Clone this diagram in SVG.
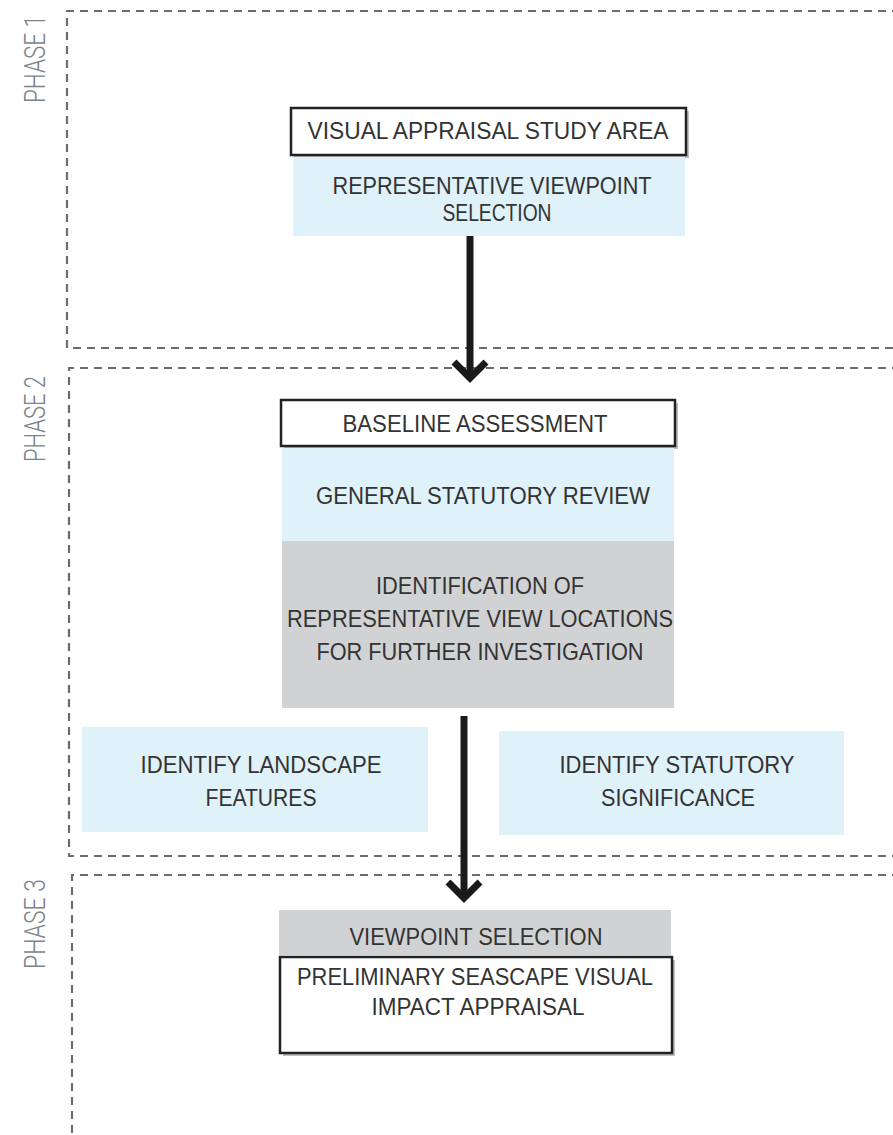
<svg xmlns="http://www.w3.org/2000/svg" width="893" height="1135" viewBox="0 0 893 1135">
<style>
.phase{fill:none;stroke:#676d72;stroke-width:2.2;stroke-dasharray:8 6}
.plabel{font-family:"Roboto","Liberation Sans",sans-serif;font-weight:300;font-size:29px;fill:#7d858a}
.t{font-family:"Liberation Sans",Arial,sans-serif;font-size:24.5px;fill:#333;text-anchor:middle}
.blue{fill:#dff1f9}
.gray{fill:#d1d2d4}
.white{fill:#fff;stroke:#222;stroke-width:2.5}
.shadow{fill:#888;opacity:0.55}
.conn{stroke:#1a1a1a;stroke-width:7;fill:none}
.head{stroke:#1a1a1a;stroke-width:7;fill:none;stroke-linejoin:miter}
</style>
<g id="phase1">
<path class="phase" d="M900,11 H67 V348 H900"/>
<text class="plabel" transform="translate(45,103) rotate(-90)" textLength="88" lengthAdjust="spacingAndGlyphs">PHASE 1</text>
</g>
<g id="phase2">
<path class="phase" d="M900,368 H69 V856 H900"/>
<text class="plabel" transform="translate(45,462) rotate(-90)" textLength="86" lengthAdjust="spacingAndGlyphs">PHASE 2</text>
</g>
<g id="phase3">
<path class="phase" d="M900,875 H72 V1140"/>
<text class="plabel" transform="translate(45,969) rotate(-90)" textLength="90" lengthAdjust="spacingAndGlyphs">PHASE 3</text>
</g>
<g id="connectors">
<line class="conn" x1="470" y1="236" x2="470" y2="376"/>
<polyline class="head" points="454,362 470,378 486,362"/>
<line class="conn" x1="464" y1="716" x2="464" y2="896"/>
<polyline class="head" points="448,882 464,898 480,882"/>
</g>
<g id="node-visual-appraisal">
<rect class="shadow" x="294" y="111" width="395" height="47"/>
<rect class="white" x="291" y="108" width="395" height="47"/>
<text class="t" x="488" y="139" textLength="361" lengthAdjust="spacingAndGlyphs">VISUAL APPRAISAL STUDY AREA</text>
</g>
<g id="node-rep-viewpoint">
<rect class="blue" x="293" y="157" width="392" height="79"/>
<text class="t" x="492" y="194" textLength="319" lengthAdjust="spacingAndGlyphs">REPRESENTATIVE VIEWPOINT</text>
<text class="t" x="497" y="221" textLength="109" lengthAdjust="spacingAndGlyphs">SELECTION</text>
</g>
<g id="node-baseline">
<rect class="shadow" x="284" y="403" width="394" height="46"/>
<rect class="white" x="281" y="400" width="394" height="46"/>
<text class="t" x="475" y="432" textLength="265" lengthAdjust="spacingAndGlyphs">BASELINE ASSESSMENT</text>
</g>
<g id="node-general-review">
<rect class="blue" x="282" y="448" width="392" height="93"/>
<text class="t" x="483" y="504" textLength="334" lengthAdjust="spacingAndGlyphs">GENERAL STATUTORY REVIEW</text>
</g>
<g id="node-identification">
<rect class="gray" x="282" y="541" width="392" height="167"/>
<text class="t" x="480" y="594" textLength="208" lengthAdjust="spacingAndGlyphs">IDENTIFICATION OF</text>
<text class="t" x="480" y="627" textLength="386" lengthAdjust="spacingAndGlyphs">REPRESENTATIVE VIEW LOCATIONS</text>
<text class="t" x="480" y="660" textLength="327" lengthAdjust="spacingAndGlyphs">FOR FURTHER INVESTIGATION</text>
</g>
<g id="node-landscape">
<rect class="blue" x="82" y="727" width="346" height="105"/>
<text class="t" x="261" y="773" textLength="241" lengthAdjust="spacingAndGlyphs">IDENTIFY LANDSCAPE</text>
<text class="t" x="261" y="806" textLength="111" lengthAdjust="spacingAndGlyphs">FEATURES</text>
</g>
<g id="node-statutory">
<rect class="blue" x="499" y="731" width="345" height="104"/>
<text class="t" x="677" y="773" textLength="235" lengthAdjust="spacingAndGlyphs">IDENTIFY STATUTORY</text>
<text class="t" x="678" y="806" textLength="154" lengthAdjust="spacingAndGlyphs">SIGNIFICANCE</text>
</g>
<g id="node-viewpoint-selection">
<rect class="gray" x="279" y="910" width="392" height="45"/>
<text class="t" x="476" y="945" textLength="253" lengthAdjust="spacingAndGlyphs">VIEWPOINT SELECTION</text>
</g>
<g id="node-preliminary">
<rect class="shadow" x="283" y="960" width="392" height="96"/>
<rect class="white" x="280" y="957" width="392" height="96"/>
<text class="t" x="475" y="985" textLength="356" lengthAdjust="spacingAndGlyphs">PRELIMINARY SEASCAPE VISUAL</text>
<text class="t" x="478" y="1015" textLength="213" lengthAdjust="spacingAndGlyphs">IMPACT APPRAISAL</text>
</g>
</svg>
